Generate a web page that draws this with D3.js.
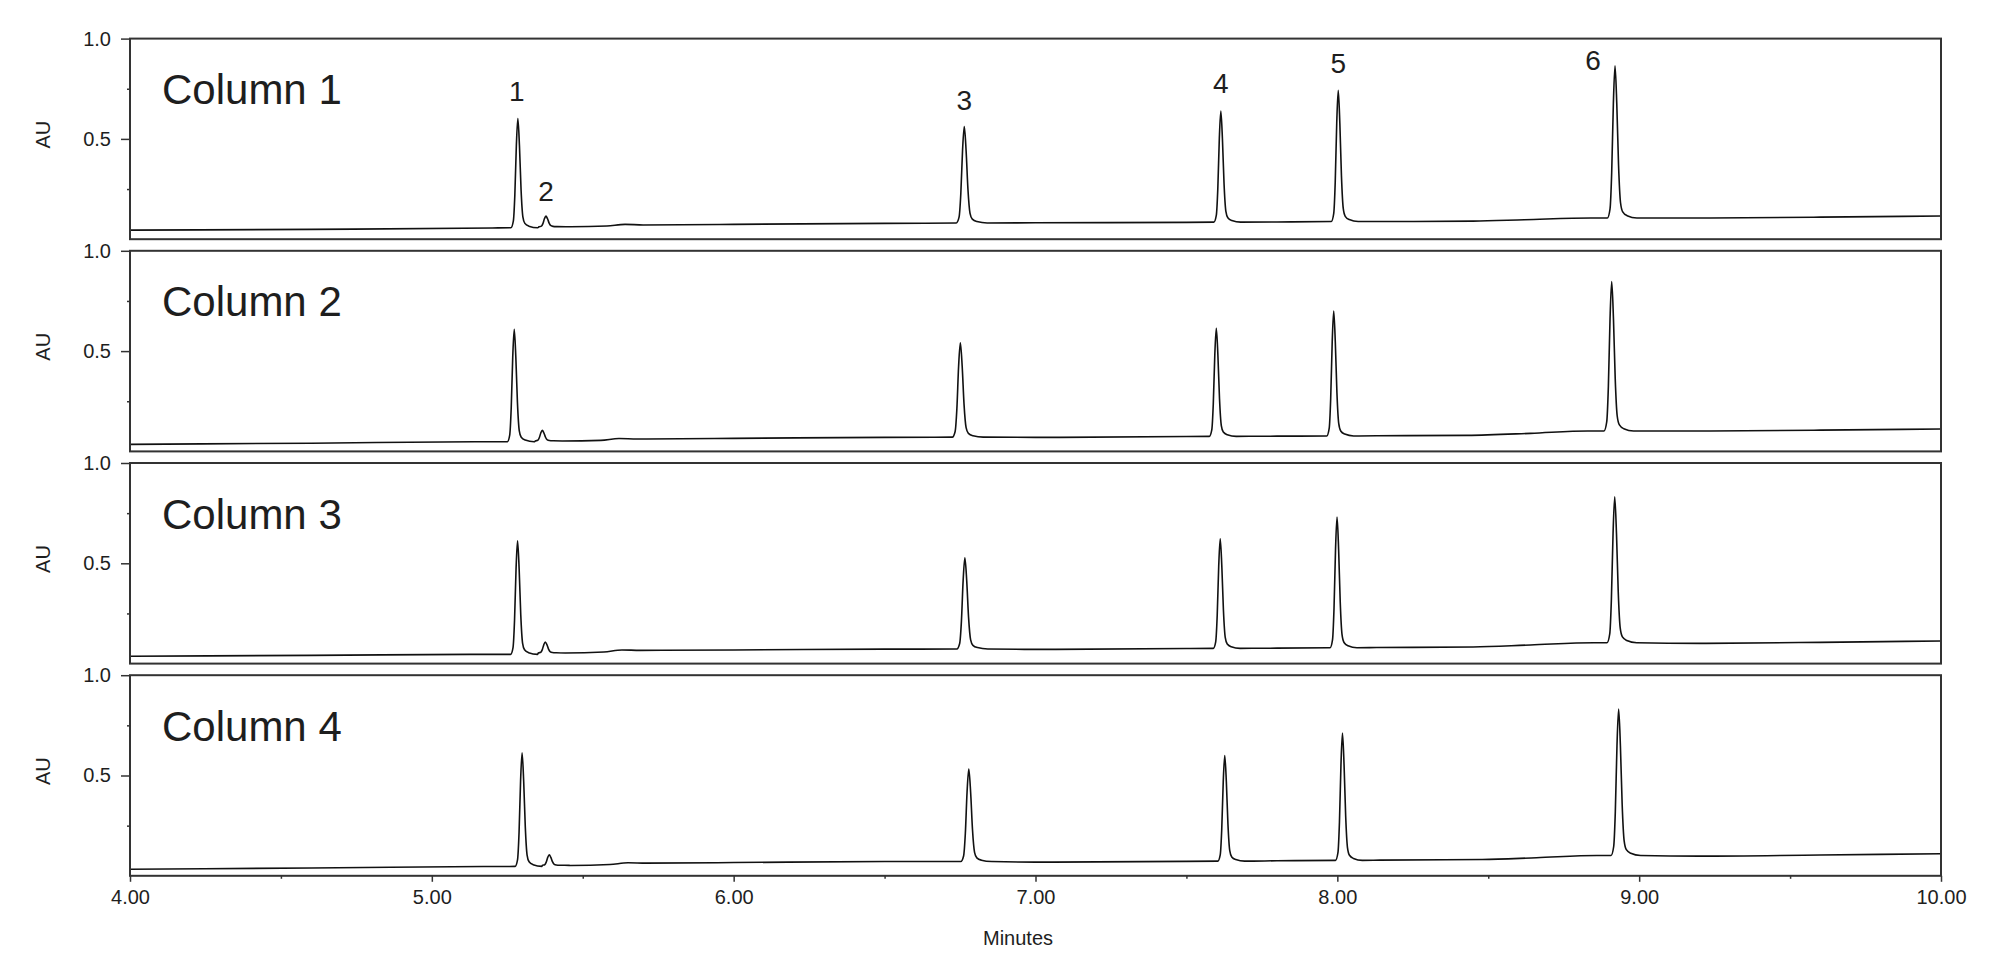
<!DOCTYPE html>
<html>
<head>
<meta charset="utf-8">
<script src="https://cdn.jsdelivr.net/npm/d3@7"></script>
<style>
  body { margin: 0; background: #fff; }
  text { font-family: "Liberation Sans", Arial, sans-serif; fill: #1e1e1e; }
</style>
</head>
<body>
<script>
// panel names and peak numbers
const PANELS = ['Column 1', 'Column 2', 'Column 3', 'Column 4']
const PEAK_NAMES = ['1', '2', '3', '4', '5', '6']

const PEAKS_1 = [[5.285, 0.602, 0.057], [5.378, 0.115, 0.062], [6.764, 0.561, 0.081], [7.614, 0.639, 0.085], [8.003, 0.742, 0.088], [8.920, 0.864, 0.106]]
const PEAKS_2 = [[5.273, 0.609, 0.048], [5.366, 0.105, 0.052], [6.751, 0.542, 0.071], [7.599, 0.614, 0.075], [7.988, 0.700, 0.077], [8.909, 0.847, 0.102]]
const PEAKS_3 = [[5.284, 0.612, 0.046], [5.376, 0.108, 0.053], [6.766, 0.527, 0.073], [7.612, 0.622, 0.076], [7.999, 0.731, 0.079], [8.919, 0.831, 0.104]]
const PEAKS_4 = [[5.299, 0.613, 0.047], [5.389, 0.105, 0.052], [6.779, 0.532, 0.071], [7.627, 0.600, 0.073], [8.017, 0.711, 0.077], [8.932, 0.831, 0.101]]

// baseline between the peaks : [minutes, AU]
const BASE_1 = [[4.0, 0.045], [4.6, 0.049], [5.2, 0.056], [5.46, 0.062], [5.58, 0.066], [5.64, 0.074], [5.70, 0.071], [6.0, 0.074], [6.5, 0.079], [7.0, 0.082], [7.5, 0.084], [7.8, 0.086], [8.2, 0.088], [8.45, 0.090], [8.62, 0.097], [8.84, 0.106], [9.2, 0.106], [9.6, 0.110], [10.0, 0.116]]
const BASE_2 = [[4.0, 0.035], [4.6, 0.041], [5.16, 0.048], [5.43, 0.050], [5.56, 0.055], [5.62, 0.064], [5.68, 0.062], [6.0, 0.065], [6.5, 0.070], [7.0, 0.070], [7.5, 0.074], [7.8, 0.076], [8.13, 0.078], [8.43, 0.080], [8.64, 0.090], [8.83, 0.102], [9.2, 0.102], [9.6, 0.106], [10.0, 0.112]]
const BASE_3 = [[4.0, 0.037], [4.6, 0.041], [5.16, 0.046], [5.44, 0.055], [5.57, 0.058], [5.63, 0.068], [5.69, 0.066], [6.0, 0.068], [6.5, 0.072], [7.0, 0.071], [7.5, 0.075], [7.8, 0.077], [8.13, 0.080], [8.45, 0.083], [8.64, 0.093], [8.85, 0.104], [9.2, 0.101], [9.6, 0.106], [10.0, 0.113]]
const BASE_4 = [[4.0, 0.033], [4.6, 0.039], [5.17, 0.046], [5.46, 0.051], [5.59, 0.056], [5.65, 0.065], [5.71, 0.063], [6.0, 0.066], [6.5, 0.071], [7.0, 0.068], [7.5, 0.072], [7.8, 0.075], [8.14, 0.078], [8.48, 0.081], [8.66, 0.090], [8.86, 0.101], [9.0, 0.096], [9.2, 0.098], [9.6, 0.104], [10.0, 0.110]]

// peak profile read from peak 1 : [minutes from apex, fraction of height]
const PEAK_SHAPE = [[-0.023, 0], [-0.015, 0.06], [-0.010, 0.3], [-0.005, 0.75], [0, 1], [0.0053, 0.75], [0.0106, 0.35], [0.0166, 0.1], [0.0232, 0.04], [0.0364, 0.015], [0.066, 0]]
// relative width of each peak
const PEAK_WIDTH = [1, 1, 1.15, 1, 1, 1.1]

const X_TICKS = [4, 5, 6, 7, 8, 9, 10]
const X_MINOR = [4.5, 5.5, 6.5, 7.5, 8.5, 9.5]
const Y_TICKS = [0.5, 1.0]
const Y_MINOR = [0.25, 0.75]

const PEAKS = [PEAKS_1, PEAKS_2, PEAKS_3, PEAKS_4]
const BASES = [BASE_1, BASE_2, BASE_3, BASE_4]

// dimensions
const WIDTH = 2000
const HEIGHT = 975
const LEFT = 130
const RIGHT = 1941
const TOP = 38.6
const STEP = 212.2
const PANEL_H = 200.6

// decalage des numeros de pic (px)
const NAME_OFFSET = [[-1, -17], [0, -15], [0, -17], [0, -18], [0, -17], [-22, 4]]

const svg = d3.select('body')
  .append('svg')
  .attr('width', WIDTH)
  .attr('height', HEIGHT)

const x = d3.scaleLinear()
  .domain([4, 10])
  .range([LEFT, RIGHT])

const line = d3.line().curve(d3.curveMonotoneX)

// build the trace from baseline points and peak profiles
function trace(peaks, base) {
  const pts = base.filter(b => !peaks.some(p => b[0] > p[0] - 0.03 && b[0] < p[0] + 0.07))
  peaks.forEach((p, i) => {
    PEAK_SHAPE.forEach(s => {
      pts.push([p[0] + s[0] * PEAK_WIDTH[i], p[2] + s[1] * (p[1] - p[2])])
    })
  })
  return pts.sort((a, b) => a[0] - b[0])
}

PANELS.forEach((name, i) => {
  const top = TOP + i * STEP
  const y = d3.scaleLinear()
    .domain([0, 1])
    .range([top + PANEL_H, top])

  const g = svg.append('g')

  // the trace
  g.append('path')
    .datum(trace(PEAKS[i], BASES[i]))
    .attr('fill', 'none')
    .attr('stroke', '#111')
    .attr('stroke-width', 1.6)
    .attr('stroke-linejoin', 'round')
    .attr('d', line.x(d => x(d[0])).y(d => y(d[1])))

  // frame
  g.append('rect')
    .attr('x', LEFT)
    .attr('y', top)
    .attr('width', RIGHT - LEFT)
    .attr('height', PANEL_H)
    .attr('fill', 'none')
    .attr('stroke', '#333')
    .attr('stroke-width', 2)

  // y axis
  const yAxis = g.append('g')
    .attr('transform', `translate(${LEFT},0)`)
    .call(d3.axisLeft(y).tickValues(Y_TICKS).tickFormat(d3.format('.1f')).tickSize(9).tickPadding(10))
  const yMinor = g.append('g')
    .attr('transform', `translate(${LEFT},0)`)
    .call(d3.axisLeft(y).tickValues(Y_MINOR).tickFormat('').tickSize(3))
  ;[yAxis, yMinor].forEach(a => {
    a.select('.domain').remove()
    a.selectAll('line').attr('stroke', '#333').attr('stroke-width', 1.5)
  })
  yAxis.selectAll('text')
    .style('font-family', '"Liberation Sans", Arial, sans-serif')
    .style('font-size', '20px')
    .attr('fill', '#1e1e1e')

  g.append('text')
    .attr('transform', `translate(43,${top + 96}) rotate(-90)`)
    .attr('text-anchor', 'middle')
    .attr('dy', '0.35em')
    .style('font-size', '20px')
    .text('AU')

  g.append('text')
    .attr('x', 162)
    .attr('y', top + 65.5)
    .style('font-size', '42px')
    .text(name)

  // peak numbers on the first panel
  if (i === 0) {
    g.selectAll('.peak')
      .data(PEAKS[i])
      .enter()
      .append('text')
      .attr('class', 'peak')
      .attr('text-anchor', 'middle')
      .attr('x', (d, k) => x(d[0]) + NAME_OFFSET[k][0])
      .attr('y', (d, k) => y(d[1]) + NAME_OFFSET[k][1])
      .style('font-size', '28px')
      .text((d, k) => PEAK_NAMES[k])
  }

  // x axis on the last panel
  if (i === PANELS.length - 1) {
    const xAxis = g.append('g')
      .attr('transform', `translate(0,${top + PANEL_H})`)
      .call(d3.axisBottom(x).tickValues(X_TICKS).tickFormat(d3.format('.2f')).tickSize(6).tickPadding(8.5))
    const xMinor = g.append('g')
      .attr('transform', `translate(0,${top + PANEL_H})`)
      .call(d3.axisBottom(x).tickValues(X_MINOR).tickFormat('').tickSize(3))
    ;[xAxis, xMinor].forEach(a => {
      a.select('.domain').remove()
      a.selectAll('line').attr('stroke', '#333').attr('stroke-width', 1.5)
    })
    xAxis.selectAll('text')
      .style('font-family', '"Liberation Sans", Arial, sans-serif')
      .style('font-size', '20px')
      .attr('fill', '#1e1e1e')

    g.append('text')
      .attr('x', 1018)
      .attr('y', 945)
      .attr('text-anchor', 'middle')
      .style('font-size', '20px')
      .text('Minutes')
  }
})
</script>
</body>
</html>
